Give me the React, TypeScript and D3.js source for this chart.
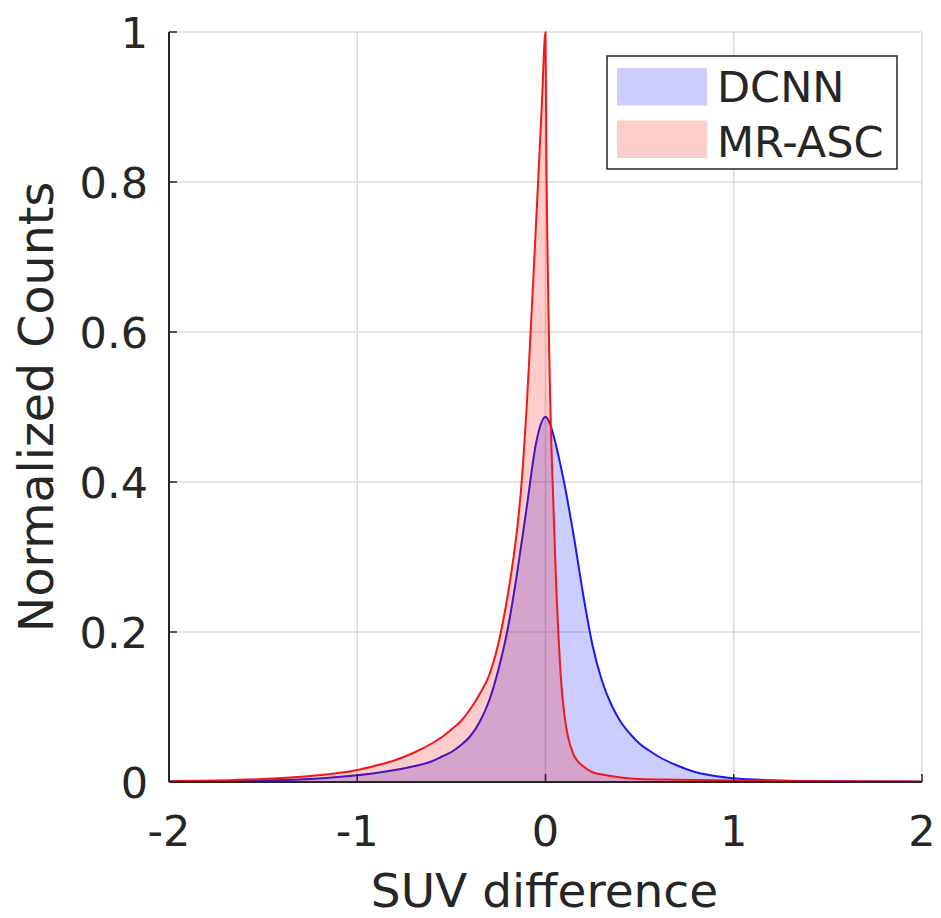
import React from "react";
import * as d3 from "d3";

const dcnnX = [
  -2, -1.75, -1.5, -1.25, -1.0, -0.9, -0.8, -0.7, -0.6, -0.55, -0.5, -0.45, -0.4, -0.35, -0.3,
  -0.25, -0.2, -0.15, -0.1, -0.05, -0.025, 0, 0.025, 0.05, 0.075, 0.1, 0.15, 0.2, 0.25, 0.3,
  0.35, 0.4, 0.45, 0.5, 0.55, 0.6, 0.7, 0.8, 0.9, 1.0, 1.25, 1.5, 1.75, 2.0,
];
const dcnnCounts = [
  0.0007, 0.001, 0.002, 0.004, 0.009, 0.012, 0.016, 0.021, 0.028, 0.034, 0.04, 0.049, 0.061,
  0.08, 0.108, 0.15, 0.205, 0.28, 0.366, 0.452, 0.477, 0.487, 0.477, 0.455, 0.428, 0.398,
  0.328, 0.25, 0.182, 0.135, 0.103, 0.08, 0.064, 0.051, 0.042, 0.034, 0.022, 0.013, 0.008,
  0.005, 0.002, 0.001, 0.0007, 0.0005,
];

const mrascX = [
  -2, -1.75, -1.5, -1.25, -1.0, -0.9, -0.8, -0.7, -0.6, -0.55, -0.5, -0.45, -0.4, -0.35, -0.3,
  -0.25, -0.2, -0.18, -0.16, -0.14, -0.12, -0.1, -0.08, -0.06, -0.04, -0.02, 0, 0.005, 0.01,
  0.015, 0.02, 0.025, 0.03, 0.04, 0.05, 0.06, 0.07, 0.08, 0.1, 0.12, 0.15, 0.2, 0.25, 0.3,
  0.4, 0.5, 0.7, 1.0, 1.5, 2.0,
];
const mrascCounts = [
  0.001, 0.002, 0.004, 0.008, 0.016, 0.022, 0.029, 0.039, 0.052, 0.06, 0.07, 0.081, 0.097,
  0.117, 0.142, 0.185, 0.25, 0.282, 0.318, 0.362, 0.422, 0.5, 0.595, 0.695, 0.797, 0.9, 1.0,
  0.82, 0.72, 0.64, 0.57, 0.51, 0.46, 0.385, 0.31, 0.243, 0.19, 0.145, 0.09, 0.06, 0.036,
  0.021, 0.013, 0.01, 0.006, 0.004, 0.003, 0.002, 0.001, 0.0005,
];

const xTicks = [-2, -1, 0, 1, 2];
const yTicks = [0, 0.2, 0.4, 0.6, 0.8, 1];
const seriesNames = ["DCNN", "MR-ASC"];

const W = 941;
const H = 918;
const plot = { left: 169, right: 922, top: 32, bottom: 782 };
const FONT = "'DejaVu Sans', sans-serif";
const TEXT = "#262626";

type Pt = { x: number; y: number };

export default function App() {
  const x = d3.scaleLinear().domain([-2, 2]).range([plot.left, plot.right]);
  const y = d3.scaleLinear().domain([0, 1]).range([plot.bottom, plot.top]);

  const mk = (xs: number[], vals: number[]): Pt[] => xs.map((xv, i) => ({ x: xv, y: vals[i] }));
  const dcnn = mk(dcnnX, dcnnCounts);
  const mrasc = mk(mrascX, mrascCounts);

  const area = d3
    .area<Pt>()
    .x((d) => x(d.x))
    .y0(y(0))
    .y1((d) => y(d.y))
    .curve(d3.curveMonotoneX);
  const line = d3
    .line<Pt>()
    .x((d) => x(d.x))
    .y((d) => y(d.y))
    .curve(d3.curveMonotoneX);

  const series = [
    { name: seriesNames[0], data: dcnn, fill: "rgba(0,0,255,0.2)", stroke: "#1a1aee" },
    { name: seriesNames[1], data: mrasc, fill: "rgba(255,0,0,0.2)", stroke: "#f01818" },
  ];

  return (
    <svg
      width={W}
      height={H}
      style={{ position: "absolute", left: 0, top: 0, display: "block", background: "#fff" }}
      fontFamily={FONT}
    >
      <rect x={0} y={0} width={W} height={H} fill="#fff" />
      {xTicks.map((t) => (
        <line key={"gx" + t} x1={x(t)} x2={x(t)} y1={plot.top} y2={plot.bottom} stroke="#dcdcdc" strokeWidth={1.5} />
      ))}
      {yTicks.map((t) => (
        <line key={"gy" + t} x1={plot.left} x2={plot.right} y1={y(t)} y2={y(t)} stroke="#dcdcdc" strokeWidth={1.5} />
      ))}
      {series.map((s) => (
        <g key={s.name}>
          <path d={area(s.data) || ""} fill={s.fill} stroke="none" />
          <path d={line(s.data) || ""} fill="none" stroke={s.stroke} strokeWidth={2} strokeLinejoin="round" />
        </g>
      ))}
      <line x1={plot.left} x2={plot.left} y1={plot.top} y2={plot.bottom} stroke={TEXT} strokeWidth={2} />
      <line x1={plot.left} x2={plot.right} y1={plot.bottom} y2={plot.bottom} stroke={TEXT} strokeWidth={2} />
      {xTicks.map((t) => (
        <g key={"xt" + t}>
          <line x1={x(t)} x2={x(t)} y1={plot.bottom} y2={plot.bottom - 8} stroke={TEXT} strokeWidth={1.5} />
          <text x={x(t)} y={846} textAnchor="middle" fontSize={43} fill={TEXT}>
            {t < 0 ? "-" + Math.abs(t) : String(t)}
          </text>
        </g>
      ))}
      {yTicks.map((t) => (
        <g key={"yt" + t}>
          <line x1={plot.left} x2={plot.left + 8} y1={y(t)} y2={y(t)} stroke={TEXT} strokeWidth={1.5} />
          <text x={148} y={y(t) + 15.5} textAnchor="end" fontSize={43} fill={TEXT}>
            {String(t)}
          </text>
        </g>
      ))}
      <text x={(plot.left + plot.right) / 2 - 1} y={907} textAnchor="middle" fontSize={47} fill={TEXT}>
        SUV difference
      </text>
      <text
        transform={`translate(53,${(plot.top + plot.bottom) / 2}) rotate(-90)`}
        textAnchor="middle"
        fontSize={47.5}
        fill={TEXT}
      >
        Normalized Counts
      </text>
      <rect x={607} y={56} width={290} height={113} fill="#fff" stroke={TEXT} strokeWidth={1.5} />
      {series.map((s, i) => (
        <g key={"lg" + s.name}>
          <rect x={617} y={68 + i * 52.5} width={90} height={37.5} fill={s.fill} />
          <text x={717} y={102 + i * 55} fontSize={43} fill={TEXT}>
            {s.name}
          </text>
        </g>
      ))}
    </svg>
  );
}
